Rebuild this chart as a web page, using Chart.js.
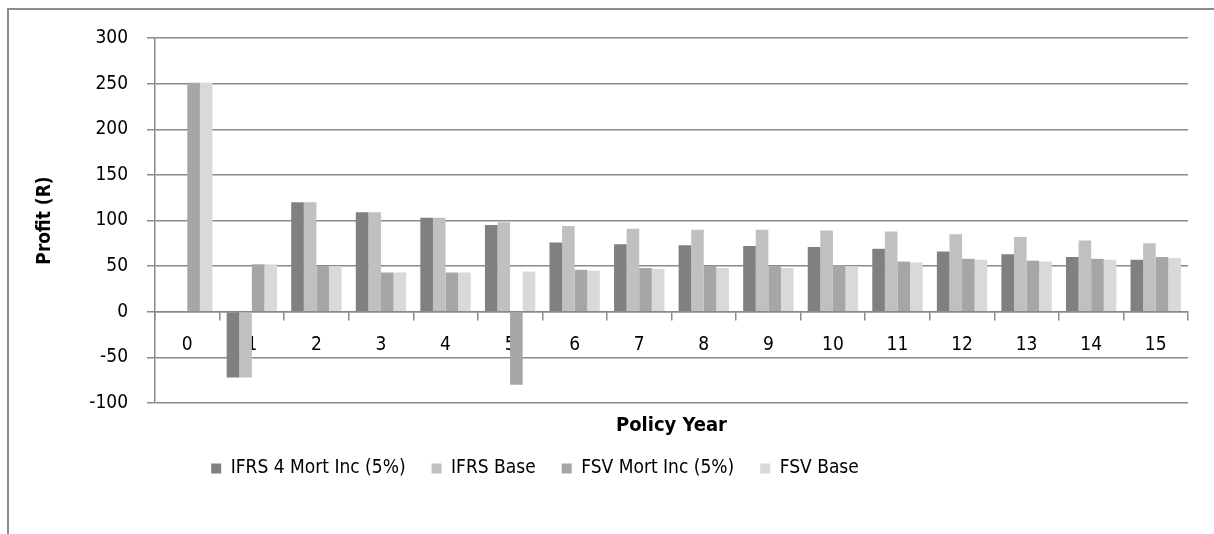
<!DOCTYPE html>
<html>
<head>
<meta charset="utf-8">
<script src="https://cdn.jsdelivr.net/npm/chart.js@4.4.1/dist/chart.umd.min.js"></script>
<style>
    body { margin: 0; background: #fff; }
    #wrap { position: relative; width: 1214px; height: 534px; overflow: hidden; }
    #frame { position: absolute; left: 7px; top: 8px; width: 1300px; height: 600px;
             border-left: 2px solid #8c8c8c; border-top: 2px solid #8c8c8c; }
    #profitChart { position: absolute; left: 0; top: 0; }
</style>
</head>
<body>
<div id="wrap">
    <div id="frame"></div>
    <canvas id="profitChart" width="1214" height="534"></canvas>
</div>
<script>
// chart data
const policyYears = ['0', '1', '2', '3', '4', '5', '6', '7', '8', '9', '10', '11', '12', '13', '14', '15'];
const ifrsMortInc = [0, -72, 120, 109, 103, 95, 76, 74, 73, 72, 71, 69, 66, 63, 60, 57];
const ifrsBase = [0, -72, 120, 109, 103, 98, 94, 91, 90, 90, 89, 88, 85, 82, 78, 75];
const fsvMortInc = [251, 52, 50, 43, 43, -80, 46, 48, 50, 50, 51, 55, 58, 56, 58, 60];
const fsvBase = [251, 52, 50, 43, 43, 44, 45, 47, 48, 48, 50, 54, 57, 55, 57, 59];

const fontFamily = '"DejaVu Sans Condensed", "DejaVu Sans", sans-serif';
const gridColor = '#8a8a8a';

// move the legend row left, like in the original sheet
const shiftLegend = {
    id: 'shiftLegend',
    afterLayout(chart) {
        chart.legend.left -= 64;
        chart.legend.right -= 64;
    }
};

const ctx = document.getElementById('profitChart').getContext('2d');
const myChart = new Chart(ctx, {
    type: 'bar',
    data: {
        labels: policyYears,
        datasets: [{
                label: 'IFRS 4 Mort Inc (5%)',
                data: ifrsMortInc,
                backgroundColor: '#808080'
            },
            {
                label: 'IFRS Base',
                data: ifrsBase,
                backgroundColor: '#c0c0c0'
            },
            {
                label: 'FSV Mort Inc (5%)',
                data: fsvMortInc,
                backgroundColor: '#a6a6a6'
            },
            {
                label: 'FSV Base',
                data: fsvBase,
                backgroundColor: '#d9d9d9'
            }
        ]
    },
    plugins: [shiftLegend],
    options: {
        responsive: false,
        animation: false,
        categoryPercentage: 0.78,
        barPercentage: 1,
        layout: {
            padding: { left: 10, right: 26, top: 38, bottom: 46 }
        },
        plugins: {
            legend: {
                position: 'bottom',
                labels: {
                    boxWidth: 10,
                    boxHeight: 10,
                    padding: 26,
                    color: '#000',
                    font: { family: fontFamily, size: 19 }
                }
            },
            tooltip: { enabled: false }
        },
        scales: {
            x: {
                position: { y: 0 },
                grid: {
                    drawOnChartArea: false,
                    color: gridColor,
                    lineWidth: 1.5,
                    tickLength: 8
                },
                border: { color: gridColor, width: 1.5 },
                ticks: {
                    color: '#000',
                    padding: 14,
                    font: { family: fontFamily, size: 19 }
                }
            },
            x2: {
                position: 'bottom',
                grid: { display: false },
                border: { display: false },
                ticks: { display: false },
                title: {
                    display: true,
                    text: 'Policy Year',
                    color: '#000',
                    padding: { top: 0, bottom: -5 },
                    font: { family: fontFamily, size: 20, weight: 'bold' }
                },
                afterFit: function (scale) {
                    scale.height = 30;
                }
            },
            y: {
                min: -100,
                max: 300,
                ticks: {
                    stepSize: 50,
                    color: '#000',
                    padding: 19,
                    font: { family: fontFamily, size: 19 }
                },
                grid: {
                    color: gridColor,
                    lineWidth: 1.5,
                    tickLength: 8
                },
                border: { color: gridColor, width: 1.5 },
                title: {
                    display: true,
                    text: 'Profit (R)',
                    color: '#000',
                    padding: { top: 24, bottom: 0 },
                    font: { family: fontFamily, size: 19, weight: 'bold' }
                },
                afterFit: function (scale) {
                    scale.width = 145;
                }
            }
        }
    }
});
</script>
</body>
</html>
